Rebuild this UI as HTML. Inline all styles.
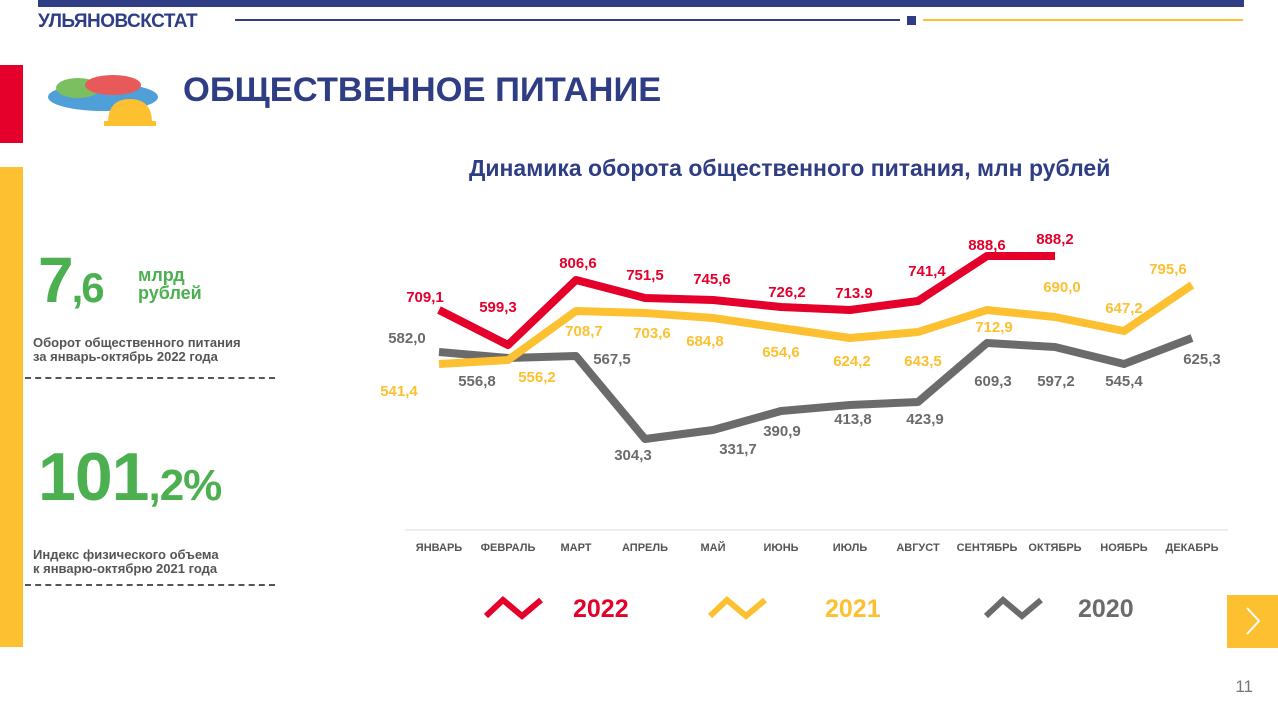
<!DOCTYPE html><html><head><meta charset="utf-8"><style>
body{margin:0;width:1278px;height:715px;position:relative;background:#fff;font-family:"Liberation Sans",sans-serif;overflow:hidden}
.a{position:absolute}
</style></head><body>
<div class="a" style="left:38px;top:0;width:1206px;height:7px;background:#2e3d84"></div>
<div class="a" style="left:38px;top:11px;font-weight:bold;font-size:19px;color:#2e3d84;letter-spacing:-0.5px">УЛЬЯНОВСКСТАТ</div>
<div class="a" style="left:235px;top:19px;width:665px;height:2px;background:#2e3d84"></div>
<div class="a" style="left:907px;top:16px;width:9px;height:9px;background:#2e3d84"></div>
<div class="a" style="left:923px;top:19px;width:320px;height:2px;background:#fcc030"></div>
<div class="a" style="left:0;top:65px;width:23px;height:78px;background:#e4002b"></div>
<div class="a" style="left:0;top:167px;width:23px;height:480px;background:#fcc030"></div>
<svg class="a" style="left:38px;top:55px" width="130" height="75">
<ellipse cx="65" cy="42" rx="55" ry="14" fill="#4f9fd8"/>
<ellipse cx="40" cy="33" rx="22" ry="10" fill="#7cbf60"/>
<ellipse cx="75" cy="30" rx="28" ry="10" fill="#e85a5a"/>
<path d="M70 68 Q70 44 92 44 Q114 44 114 68Z" fill="#fcc030"/><rect x="66" y="66" width="52" height="5" fill="#fcc030"/>
</svg>
<div class="a" style="left:183px;top:71px;font-weight:bold;font-size:34.5px;color:#2e3d84">ОБЩЕСТВЕННОЕ ПИТАНИЕ</div>
<div class="a" style="left:469px;top:155px;font-weight:bold;font-size:23px;color:#2e3d84">Динамика оборота общественного питания, млн рублей</div>
<div class="a" style="left:38px;top:243px;font-weight:bold;font-size:64px;color:#4caf50;letter-spacing:-2px">7<span style="font-size:42px">,6</span></div>
<div class="a" style="left:138px;top:266px;font-weight:bold;font-size:18px;color:#4caf50;line-height:18px">млрд<br>рублей</div>
<div class="a" style="left:33px;top:336px;font-weight:bold;font-size:13px;color:#555;line-height:14px">Оборот общественного питания<br>за январь-октябрь 2022 года</div>
<div class="a" style="left:25px;top:377px;width:250px;border-top:2px dashed #555"></div>
<div class="a" style="left:38px;top:438px;font-weight:bold;font-size:68px;color:#4caf50;letter-spacing:-1px">101<span style="font-size:44px">,2%</span></div>
<div class="a" style="left:33px;top:548px;font-weight:bold;font-size:13px;color:#555;line-height:14px">Индекс физического объема<br>к январю-октябрю 2021 года</div>
<div class="a" style="left:25px;top:584px;width:250px;border-top:2px dashed #555"></div>
<svg class="a" style="left:0;top:0" width="1278" height="715" font-family="Liberation Sans" font-weight="bold">
<line x1="405" y1="530" x2="1228" y2="530" stroke="#ddd" stroke-width="1"/>
<polyline fill="none" stroke="#6b6b6b" stroke-width="8" stroke-linejoin="round" points="439,352 508,358 576,356 645,439 713,430 781,411 850,405 918,402 987,343 1055,347 1124,364 1192,338"/>
<polyline fill="none" stroke="#fcc030" stroke-width="8" stroke-linejoin="round" points="439,364 508,360 576,311 645,313 713,318 781,328 850,338 918,332 987,310 1055,317 1124,331 1192,285"/>
<polyline fill="none" stroke="#e4002b" stroke-width="8" stroke-linejoin="round" points="439,310 508,345 576,280 645,298 713,300 781,307 850,310 918,301 987,256 1055,256"/>
<g font-size="15" fill="#e4002b" text-anchor="middle">
<text x="425" y="302">709,1</text><text x="498" y="312">599,3</text><text x="578" y="268">806,6</text><text x="645" y="280">751,5</text><text x="712" y="284">745,6</text><text x="787" y="297">726,2</text><text x="854" y="298">713.9</text><text x="927" y="276">741,4</text><text x="987" y="250">888,6</text><text x="1055" y="244">888,2</text></g>
<g font-size="15" fill="#fcc030" text-anchor="middle">
<text x="399" y="396">541,4</text><text x="537" y="382">556,2</text><text x="584" y="336">708,7</text><text x="652" y="338">703,6</text><text x="705" y="346">684,8</text><text x="781" y="357">654,6</text><text x="852" y="366">624,2</text><text x="923" y="366">643,5</text><text x="994" y="332">712,9</text><text x="1062" y="292">690,0</text><text x="1124" y="313">647,2</text><text x="1168" y="274">795,6</text></g>
<g font-size="15" fill="#6b6b6b" text-anchor="middle">
<text x="407" y="343">582,0</text><text x="477" y="386">556,8</text><text x="612" y="364">567,5</text><text x="633" y="460">304,3</text><text x="738" y="454">331,7</text><text x="782" y="436">390,9</text><text x="853" y="424">413,8</text><text x="925" y="424">423,9</text><text x="993" y="386">609,3</text><text x="1056" y="386">597,2</text><text x="1124" y="386">545,4</text><text x="1202" y="364">625,3</text></g>
<g font-size="11" fill="#555" text-anchor="middle">
<text x="439" y="551">ЯНВАРЬ</text><text x="508" y="551">ФЕВРАЛЬ</text><text x="576" y="551">МАРТ</text><text x="645" y="551">АПРЕЛЬ</text><text x="713" y="551">МАЙ</text><text x="781" y="551">ИЮНЬ</text><text x="850" y="551">ИЮЛЬ</text><text x="918" y="551">АВГУСТ</text><text x="987" y="551">СЕНТЯБРЬ</text><text x="1055" y="551">ОКТЯБРЬ</text><text x="1124" y="551">НОЯБРЬ</text><text x="1192" y="551">ДЕКАБРЬ</text></g>
<polyline fill="none" stroke="#e4002b" stroke-width="6" points="486,616 503,600 522,616 541,600"/>
<text x="573" y="617" font-size="25" fill="#e4002b">2022</text>
<polyline fill="none" stroke="#fcc030" stroke-width="6" points="710,616 727,600 746,616 765,600"/>
<text x="825" y="617" font-size="25" fill="#fcc030">2021</text>
<polyline fill="none" stroke="#6b6b6b" stroke-width="6" points="986,616 1003,600 1022,616 1041,600"/>
<text x="1078" y="617" font-size="25" fill="#6b6b6b">2020</text>
<rect x="1227" y="595" width="51" height="53" fill="#fcc030"/>
<polyline fill="none" stroke="#fff" stroke-width="2" points="1247,608 1259,621 1247,634"/>
<text x="1253" y="692" font-size="17" font-weight="normal" fill="#777" text-anchor="end">11</text>
</svg>
</body></html>
